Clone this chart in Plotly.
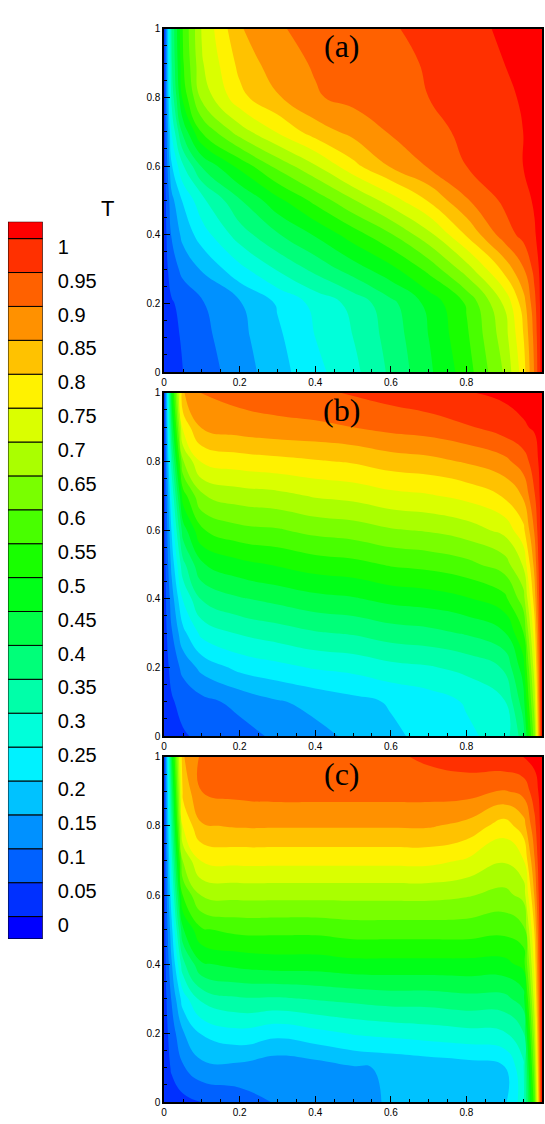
import colorsys
import plotly.graph_objects as go

# grid the temperature fields were read on
x_pts = [0, 0.02, 0.05, 0.1, 0.2, 0.3, 0.4, 0.5, 0.6, 0.7, 0.8, 0.9, 0.95, 0.98, 1]
y_pts = [0, 0.1, 0.2, 0.3, 0.4, 0.5, 0.6, 0.7, 0.8, 0.9, 1]

# panel (a), rows bottom -> top
T_a = [
    [0, .01, .025, .05, .10, .155, .21, .26, .335, .415, .50, .63, .75, .88, 1],
    [0, .012, .03, .06, .11, .165, .225, .275, .345, .425, .515, .65, .77, .89, 1],
    [0, .02, .04, .07, .12, .18, .24, .29, .36, .44, .53, .68, .80, .91, 1],
    [0, .05, .09, .13, .21, .28, .34, .40, .46, .54, .65, .79, .87, .94, 1],
    [0, .08, .14, .20, .30, .37, .43, .50, .57, .66, .78, .90, .94, .97, 1],
    [0, .11, .18, .26, .37, .46, .54, .62, .70, .78, .87, .935, .96, .98, 1],
    [0, .17, .27, .38, .49, .59, .67, .76, .83, .88, .925, .955, .975, .99, 1],
    [0, .23, .39, .53, .65, .73, .80, .84, .88, .91, .935, .96, .975, .99, 1],
    [0, .29, .49, .64, .76, .82, .87, .89, .905, .925, .945, .965, .98, .99, 1],
    [0, .32, .52, .67, .79, .855, .88, .895, .91, .93, .95, .975, .985, .995, 1],
    [0, .33, .53, .68, .82, .87, .89, .905, .92, .94, .965, .98, .99, .995, 1],
]

# panel (b)
T_b = [
    [0, .01, .02, .035, .055, .085, .11, .135, .165, .19, .215, .245, .35, .6, 1],
    [0, .02, .04, .06, .09, .12, .14, .16, .18, .20, .23, .27, .40, .65, 1],
    [0, .04, .09, .14, .19, .21, .23, .24, .26, .27, .29, .33, .45, .70, 1],
    [0, .07, .16, .24, .28, .30, .32, .33, .35, .36, .38, .42, .52, .75, 1],
    [0, .10, .23, .33, .37, .39, .41, .42, .44, .45, .47, .51, .60, .80, 1],
    [0, .14, .31, .42, .46, .48, .50, .51, .53, .54, .56, .60, .68, .84, 1],
    [0, .18, .40, .52, .56, .57, .59, .60, .62, .63, .65, .69, .76, .88, 1],
    [0, .23, .50, .62, .65, .66, .68, .69, .71, .72, .74, .78, .83, .92, 1],
    [0, .30, .62, .73, .75, .76, .77, .78, .80, .81, .83, .86, .90, .95, 1],
    [0, .38, .74, .83, .85, .86, .865, .875, .89, .90, .92, .95, .97, .98, 1],
    [0, .45, .82, .88, .895, .905, .915, .93, .945, .96, .972, .985, .99, .995, 1],
]

# panel (c)
T_c = [
    [0, .005, .01, .025, .05, .08, .09, .11, .13, .14, .15, .165, .25, .55, 1],
    [0, .03, .07, .11, .11, .09, .10, .12, .13, .14, .15, .17, .26, .6, 1],
    [0, .05, .12, .18, .21, .19, .21, .23, .24, .25, .26, .27, .32, .65, 1],
    [0, .08, .20, .29, .32, .32, .33, .34, .35, .35, .36, .36, .40, .70, 1],
    [0, .12, .31, .42, .44, .45, .45, .46, .46, .46, .46, .46, .49, .74, 1],
    [0, .16, .42, .52, .54, .54, .54, .55, .55, .55, .55, .54, .56, .78, 1],
    [0, .21, .53, .63, .64, .64, .64, .64, .64, .64, .63, .61, .64, .83, 1],
    [0, .26, .63, .73, .74, .74, .74, .74, .74, .74, .72, .68, .72, .87, 1],
    [0, .31, .73, .82, .83, .83, .83, .83, .83, .83, .81, .75, .80, .91, 1],
    [0, .36, .79, .875, .89, .895, .895, .895, .895, .895, .895, .87, .89, .95, 1],
    [0, .42, .82, .885, .90, .905, .905, .905, .915, .935, .95, .965, .975, .99, 1],
]

levels = [round(0.05 * i, 2) for i in range(21)]
level_labels = ['0', '0.05', '0.1', '0.15', '0.2', '0.25', '0.3', '0.35', '0.4', '0.45', '0.5',
                '0.55', '0.6', '0.65', '0.7', '0.75', '0.8', '0.85', '0.9', '0.95', '1']
panel_names = ['(a)', '(b)', '(c)']

# rainbow, blue -> red, one colour per band (22 bands)
n_bands = 22
band_colors = []
for k in range(n_bands):
    r, g, b = colorsys.hsv_to_rgb((240 - 240 * k / (n_bands - 1)) / 360.0, 1, 1)
    band_colors.append('rgb(%d,%d,%d)' % (r * 255, g * 255, b * 255))

zmin, zmax = -0.075, 1.025
cscale = []
for k, c in enumerate(band_colors):
    cscale.append([k / n_bands, c])
    cscale.append([(k + 1) / n_bands, c])

fig = go.Figure()

W, H = 545, 1124
panel_px = [(23, 370), (391, 738), (759, 1108)]
x_dom = [162 / W, 542 / W]

for i, T in enumerate([T_a, T_b, T_c]):
    n = '' if i == 0 else str(i + 1)
    fig.add_trace(go.Contour(
        x=x_pts, y=y_pts, z=T,
        xaxis='x' + n, yaxis='y' + n,
        colorscale=cscale, zmin=zmin, zmax=zmax, showscale=False,
        contours=dict(start=-0.025, end=0.975, size=0.05, coloring='fill'),
        line=dict(width=0, smoothing=1.3),
    ))
    top, bot = panel_px[i]
    ax = dict(range=[0, 1], showline=True, mirror=True, linecolor='black', linewidth=1.5,
              ticks='inside', ticklen=6, tickcolor='black', dtick=0.2, showgrid=False, zeroline=False,
              minor=dict(ticks='inside', ticklen=3, dtick=0.05, tickcolor='black'),
              tickfont=dict(family='Arial', size=10, color='black'))
    fig.update_layout(**{
        'xaxis' + n: dict(ax, domain=x_dom, anchor='y' + n),
        'yaxis' + n: dict(ax, domain=[1 - bot / H, 1 - top / H], anchor='x' + n),
    })
    fig.add_annotation(x=0.47, y=0.95, xref='x' + n, yref='y' + n, text=panel_names[i],
                       showarrow=False, font=dict(family='Liberation Serif', size=32, color='black'))

# legend bar drawn as stacked boxes
box_base = [-0.033] + levels
box_top = levels + [1.025]
fig.add_trace(go.Bar(
    x=[0] * n_bands, y=[t - b for t, b in zip(box_top, box_base)], base=box_base,
    width=1, marker=dict(color=band_colors, line=dict(color='black', width=1)),
    xaxis='x4', yaxis='y4', hoverinfo='skip',
))
fig.update_layout(
    xaxis4=dict(domain=[5 / W, 40 / W], range=[-0.5, 0.5], visible=False, anchor='y4'),
    yaxis4=dict(domain=[1 - 943 / H, 1 - 218 / H], range=[-0.033, 1.025], anchor='x4', side='right',
                tickvals=[v - 0.012 for v in levels], ticktext=level_labels, ticks='',
                showgrid=False, zeroline=False, showline=False, ticklabelstandoff=14,
                tickfont=dict(family='Arial', size=20, color='black')),
)
fig.add_annotation(x=97 / W, y=1 - 190 / H, xref='paper', yref='paper', text='T', showarrow=False,
                   font=dict(family='Arial', size=22, color='black'))

fig.update_layout(width=W, height=H, margin=dict(l=0, r=0, t=0, b=0),
                  plot_bgcolor='white', paper_bgcolor='white', showlegend=False, barmode='overlay')

graph_config = {'displayModeBar': False}

fig.write_html('out.html', config=graph_config,
               post_script="document.body.style.margin='0';document.body.style.overflow='hidden';")
